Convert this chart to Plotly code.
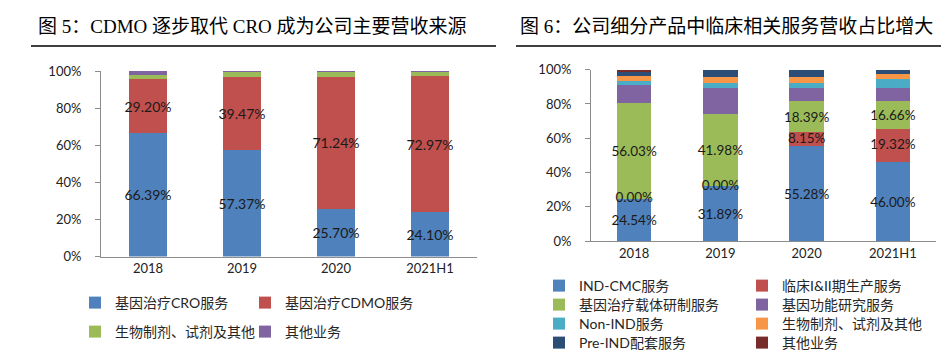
import plotly.graph_objects as go

W, H = 949, 356

# ---------------- data ----------------
years = ["2018", "2019", "2020", "2021H1"]

# Figure 5 (left)
left_names = ["基因治疗CRO服务", "基因治疗CDMO服务", "生物制剂、试剂及其他", "其他业务"]
left_cro = [66.39, 57.37, 25.70, 24.10]
left_cdmo = [29.20, 39.47, 71.24, 72.97]
left_bio = [2.40, 3.06, 2.60, 2.50]
left_other = [2.01, 0.10, 0.46, 0.43]

# Figure 6 (right)
right_names = ["IND-CMC服务", "临床I&II期生产服务", "基因治疗载体研制服务", "基因功能研究服务",
               "Non-IND服务", "生物制剂、试剂及其他", "Pre-IND配套服务", "其他业务"]
r_cmc = [24.54, 31.89, 55.28, 46.00]
r_clin = [0.00, 0.00, 8.15, 19.32]
r_vector = [56.03, 41.98, 18.39, 16.66]
r_func = [10.23, 15.40, 7.50, 7.30]
r_nonind = [2.70, 2.90, 3.10, 5.20]
r_bio = [2.60, 3.30, 3.10, 3.00]
r_preind = [2.50, 4.53, 4.48, 2.52]
r_other = [1.40, 0.00, 0.00, 0.00]

y_ticks = [0, 20, 40, 60, 80, 100]
y_tick_text = [f"{v}%" for v in y_ticks]

# ---------------- style ----------------
C_BLUE, C_RED, C_GREEN, C_PURPLE = "#4F81BD", "#C0504D", "#9BBB59", "#8064A2"
C_TEAL, C_ORANGE, C_NAVY, C_DRED = "#4BACC6", "#F79646", "#2C4D75", "#772C2A"
NUM_FONT = "Lato, 'Noto Sans CJK SC', sans-serif"
CJK_FONT = "Lato, 'Noto Sans CJK SC', sans-serif"
TEXT_COLOR = "#1a1a1a"
LEFT_LABEL_SIZE = 14
RIGHT_LABEL_SIZE = 13.5

fig = go.Figure()


def add_bar(x, y, name, color, xa, ya, legend, label, size):
    kw = {}
    if label:
        kw = dict(texttemplate="%{y:.2f}%", textposition="inside", insidetextanchor="middle",
                  textangle=0, constraintext="none",
                  textfont=dict(family=NUM_FONT, size=size, color=TEXT_COLOR))
    fig.add_trace(go.Bar(x=x, y=y, name=name, marker=dict(color=color, line=dict(width=0)),
                         xaxis=xa, yaxis=ya, legend=legend, hoverinfo="skip", **kw))


# left chart
add_bar(years, left_cro, left_names[0], C_BLUE, "x", "y", "legend", True, LEFT_LABEL_SIZE)
add_bar(years, left_cdmo, left_names[1], C_RED, "x", "y", "legend2", True, LEFT_LABEL_SIZE)
add_bar(years, left_bio, left_names[2], C_GREEN, "x", "y", "legend3", False, 12)
add_bar(years, left_other, left_names[3], C_PURPLE, "x", "y", "legend4", False, 12)

# right chart
add_bar(years, r_cmc, right_names[0], C_BLUE, "x2", "y2", "legend5", True, RIGHT_LABEL_SIZE)
add_bar(years, r_clin, right_names[1], C_RED, "x2", "y2", "legend6", False, RIGHT_LABEL_SIZE)
add_bar(years, r_vector, right_names[2], C_GREEN, "x2", "y2", "legend7", True, RIGHT_LABEL_SIZE)
add_bar(years, r_func, right_names[3], C_PURPLE, "x2", "y2", "legend8", False, 11)
add_bar(years, r_nonind, right_names[4], C_TEAL, "x2", "y2", "legend9", False, 11)
add_bar(years, r_bio, right_names[5], C_ORANGE, "x2", "y2", "legend10", False, 11)
add_bar(years, r_preind, right_names[6], C_NAVY, "x2", "y2", "legend11", False, 11)
add_bar(years, r_other, right_names[7], C_DRED, "x2", "y2", "legend12", False, 11)

# labels of the 临床I&II期 series (including 0.00% ones) centred on their segments
clin_mid = [b + v / 2 for b, v in zip(r_cmc, r_clin)]
fig.add_trace(go.Scatter(x=years, y=clin_mid, mode="text",
                         text=[f"{v:.2f}%" for v in r_clin], textposition="middle center",
                         textfont=dict(family=NUM_FONT, size=RIGHT_LABEL_SIZE, color=TEXT_COLOR),
                         xaxis="x2", yaxis="y2", showlegend=False, hoverinfo="skip",
                         cliponaxis=False))

AX_COLOR = "#8c8c8c"
tickfont = dict(family=NUM_FONT, size=13, color="#222222")


def px_x(p):
    return p / W


def px_y(p):
    return 1 - p / H


xaxis_common = dict(type="category", showline=True, linecolor=AX_COLOR, linewidth=1, ticks="",
                    showgrid=False, zeroline=False, tickfont=tickfont, ticklabelstandoff=0,
                    fixedrange=True)
yaxis_common = dict(range=[0, 100], tickmode="array", tickvals=y_ticks, ticktext=y_tick_text,
                    showline=True, linecolor=AX_COLOR, linewidth=1, ticks="outside", ticklen=5,
                    tickcolor=AX_COLOR, showgrid=False, zeroline=False, tickfont=tickfont,
                    ticklabelstandoff=11, fixedrange=True)

legend_common = dict(xanchor="left", yanchor="middle", bgcolor="rgba(0,0,0,0)",
                     borderwidth=0, font=dict(family=CJK_FONT, size=14, color="#262626"))

# one legend per entry: (text start x, row centre y) in pixels
LEG_DX, LEG_DY = 48, 8
legend_pos = [
    (115, 303), (285, 303), (115, 332), (285, 332),
    (579, 286), (782, 286), (579, 305), (782, 305),
    (579, 324), (782, 324), (579, 343), (782, 343),
]
legends = {}
for i, (tx, ty) in enumerate(legend_pos):
    key = "legend" if i == 0 else f"legend{i + 1}"
    legends[key] = dict(x=px_x(tx - LEG_DX), y=px_y(ty - LEG_DY), **legend_common)

fig.update_layout(
    width=W, height=H,
    margin=dict(l=0, r=0, t=0, b=0, autoexpand=False),
    paper_bgcolor="white", plot_bgcolor="white",
    barmode="stack", bargap=0.6,
    showlegend=True,
    xaxis=dict(domain=[px_x(93), px_x(469)], anchor="y", **xaxis_common),
    yaxis=dict(domain=[px_y(248.5), px_y(63)], anchor="x", **yaxis_common),
    xaxis2=dict(domain=[px_x(583), px_x(928)], anchor="y2", **xaxis_common),
    yaxis2=dict(domain=[px_y(233), px_y(61.7)], anchor="x2", **yaxis_common),
    **legends,
)

TITLE_FONT = "'Liberation Serif', 'Noto Sans CJK SC', serif"
fig.add_annotation(text="图 5：CDMO 逐步取代 CRO 成为公司主要营收来源", xref="paper", yref="paper",
                   x=px_x(28), y=px_y(18), xanchor="left", yanchor="middle", showarrow=False,
                   font=dict(family=TITLE_FONT, size=19, color="#000000"))
fig.add_annotation(text="图 6：公司细分产品中临床相关服务营收占比增大", xref="paper", yref="paper",
                   x=px_x(510), y=px_y(18), xanchor="left", yanchor="middle", showarrow=False,
                   font=dict(family=TITLE_FONT, size=19, color="#000000"))

# title rules
fig.add_shape(type="line", xref="paper", yref="paper", x0=px_x(23), x1=px_x(488),
              y0=px_y(38), y1=px_y(38), line=dict(color="#000000", width=1.5))
fig.add_shape(type="line", xref="paper", yref="paper", x0=px_x(508), x1=1,
              y0=px_y(38), y1=px_y(38), line=dict(color="#000000", width=1.5))

fig.write_html("out.html")
